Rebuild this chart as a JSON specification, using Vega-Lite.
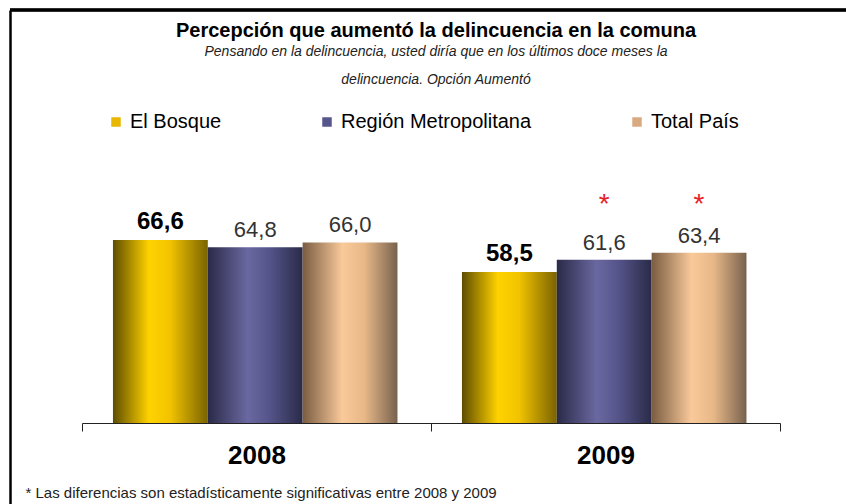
{
  "$schema": "https://vega.github.io/schema/vega-lite/v6.json",
  "width": 836,
  "height": 494,
  "autosize": {"type": "none"},
  "padding": {"left": 10, "top": 10, "right": 0, "bottom": 0},
  "background": "white",
  "config": {"font": "Liberation Sans", "view": {"stroke": null}},
  "title": {
    "text": "Percepción que aumentó la delincuencia en la comuna",
    "subtitle": ["Pensando en la delincuencia, usted diría que en los últimos doce meses la", "delincuencia. Opción Aumentó"],
    "anchor": "middle",
    "fontSize": 20,
    "fontWeight": "bold",
    "color": "#000",
    "subtitleFontSize": 14,
    "subtitleFontStyle": "italic",
    "subtitleColor": "#222",
    "subtitleLineHeight": 28,
    "subtitlePadding": 4,
    "offset": -78,
    "dx": 8
  },
  "data": {
    "values": [
      {"year": "2008", "series": "El Bosque", "value": 66.6, "label": "66,6", "sig": false},
      {"year": "2008", "series": "Región Metropolitana", "value": 64.8, "label": "64,8", "sig": false},
      {"year": "2008", "series": "Total País", "value": 66.0, "label": "66,0", "sig": false},
      {"year": "2009", "series": "El Bosque", "value": 58.5, "label": "58,5", "sig": false},
      {"year": "2009", "series": "Región Metropolitana", "value": 61.6, "label": "61,6", "sig": true},
      {"year": "2009", "series": "Total País", "value": 63.4, "label": "63,4", "sig": true}
    ]
  },
  "layer": [
    {
      "encoding": {
        "x": {
          "field": "year",
          "type": "nominal",
          "scale": {"range": [72, 770], "paddingInner": 0, "paddingOuter": 0},
          "axis": {
            "orient": "bottom",
            "offset": -81,
            "domainColor": "#222",
            "domainWidth": 1,
            "tickBand": "extent",
            "tickSize": 8,
            "tickColor": "#222",
            "labelAngle": 0,
            "labelFontSize": 26,
            "labelFontWeight": "bold",
            "labelColor": "#000",
            "labelPadding": 11,
            "title": "* Las diferencias son estadísticamente significativas entre 2008 y 2009",
            "titleAnchor": "start",
            "titleAlign": "left",
            "titleX": 15,
            "titleY": 69,
            "titleBaseline": "middle",
            "titleFontSize": 15,
            "titleFontWeight": "normal",
            "titleColor": "#222"
          }
        },
        "xOffset": {
          "field": "series",
          "type": "nominal",
          "sort": ["El Bosque", "Región Metropolitana", "Total País"],
          "scale": {"paddingInner": 0, "paddingOuter": 0.34, "align": 0.48}
        },
        "y": {
          "field": "value",
          "type": "quantitative",
          "scale": {"domain": [-0.6, 125.2], "nice": false, "zero": false},
          "axis": {
            "domain": true,
            "domainColor": "#000",
            "domainWidth": 2.5,
            "ticks": false,
            "labels": false,
            "grid": false,
            "title": null
          }
        }
      },
      "layer": [
        {
          "transform": [{"filter": "datum.series === 'El Bosque'"}],
          "mark": {"type": "bar", "color": {"gradient": "linear", "x1": 0, "y1": 0, "x2": 1, "y2": 0, "stops": [
            {"offset": 0, "color": "#5e4d00"},
            {"offset": 0.38, "color": "#ffd200"},
            {"offset": 0.6, "color": "#f2c400"},
            {"offset": 1, "color": "#7a6300"}]}},
          "encoding": {"y2": {"datum": 20}}
        },
        {
          "transform": [{"filter": "datum.series === 'Región Metropolitana'"}],
          "mark": {"type": "bar", "color": {"gradient": "linear", "x1": 0, "y1": 0, "x2": 1, "y2": 0, "stops": [
            {"offset": 0, "color": "#2a2a48"},
            {"offset": 0.42, "color": "#6a68a0"},
            {"offset": 0.65, "color": "#55548a"},
            {"offset": 1, "color": "#2a2a48"}]}},
          "encoding": {"y2": {"datum": 20}}
        },
        {
          "transform": [{"filter": "datum.series === 'Total País'"}],
          "mark": {"type": "bar", "color": {"gradient": "linear", "x1": 0, "y1": 0, "x2": 1, "y2": 0, "stops": [
            {"offset": 0, "color": "#7a5c42"},
            {"offset": 0.42, "color": "#f9c99a"},
            {"offset": 0.65, "color": "#e8b888"},
            {"offset": 1, "color": "#78624e"}]}},
          "encoding": {"y2": {"datum": 20}}
        },
        {
          "transform": [{"filter": "datum.series === 'El Bosque'"}],
          "mark": {"type": "text", "fontWeight": "bold", "fontSize": 24, "dy": -11, "baseline": "alphabetic", "color": "#000"},
          "encoding": {"text": {"field": "label"}}
        },
        {
          "transform": [{"filter": "datum.series !== 'El Bosque'"}],
          "mark": {"type": "text", "fontSize": 22, "dy": -10, "baseline": "alphabetic", "color": "#333"},
          "encoding": {"text": {"field": "label"}}
        },
        {
          "transform": [{"filter": "datum.sig"}],
          "mark": {"type": "text", "text": "*", "fontSize": 28, "baseline": "alphabetic", "color": "#e8202a"},
          "encoding": {"y": {"datum": 73.6}}
        }
      ]
    },
    {
      "transform": [{"filter": "false"}],
      "mark": {"type": "square"},
      "encoding": {
        "color": {
          "field": "series",
          "type": "nominal",
          "scale": {
            "domain": ["El Bosque", "Región Metropolitana", "Total País"],
            "range": ["#e8b800", "#57568c", "#d9aa80"]
          },
          "legend": {
            "orient": "none",
            "legendX": 96,
            "legendY": 102,
            "direction": "horizontal",
            "title": null,
            "symbolType": "square",
            "symbolSize": 90,
            "symbolStrokeWidth": 0,
            "symbolOpacity": 1,
            "labelFontSize": 20,
            "labelLimit": 0,
            "labelColor": "#000",
            "labelOffset": 4,
            "columnPadding": 95
          }
        }
      }
    },
    {
      "mark": {"type": "rule", "color": "#000", "strokeWidth": 2.5},
      "encoding": {"y": {"datum": 125.2}}
    }
  ]
}
